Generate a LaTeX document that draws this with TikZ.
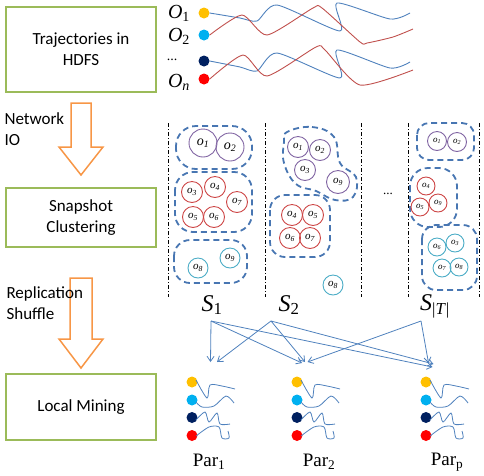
\documentclass[tikz,border=0pt]{standalone}
\usepackage{fontspec}
\setmainfont{Liberation Serif}
\newfontfamily\calibrifont{Carlito}
\usetikzlibrary{calc,arrows.meta}

\definecolor{boxgreen}{RGB}{155,187,89}
\definecolor{arrorange}{RGB}{247,150,70}
\definecolor{offblue}{RGB}{79,129,189}
\definecolor{dashblue}{RGB}{72,118,178}
\definecolor{trajred}{RGB}{192,80,77}
\definecolor{objpurple}{RGB}{128,100,162}
\definecolor{objred}{RGB}{205,70,70}
\definecolor{objteal}{RGB}{75,172,198}
\definecolor{dotyellow}{RGB}{255,192,0}
\definecolor{dotcyan}{RGB}{0,176,240}
\definecolor{dotnavy}{RGB}{0,32,96}
\definecolor{dotred}{RGB}{255,0,0}

\begin{document}
\begin{tikzpicture}[x=1pt,y=-1pt]
% Styles
\tikzset{
    stage/.style={draw=boxgreen, line width=1.6pt, minimum width=150pt, align=center, font=\calibrifont\fontsize{17}{21}\selectfont},
    note/.style={anchor=west, align=left, font=\calibrifont\fontsize{17}{21}\selectfont},
    bigarr/.style={draw=arrorange, line width=1.5pt},
    dot/.style={circle, fill=#1, inner sep=0pt, minimum size=11pt},
    obj/.style={circle, draw=#1, line width=0.9pt, inner sep=0pt, minimum size=21pt, font=\fontsize{11}{11}\selectfont\itshape},
    clus/.style={draw=dashblue, line width=1.8pt, dash pattern=on 6pt off 4pt},
    sep/.style={line width=0.6pt, dash pattern=on 4pt off 2pt on 1pt off 2pt},
    lab/.style={font=\fontsize{24}{24}\selectfont},
    flow/.style={draw=offblue, line width=0.8pt, -{Straight Barb[length=5pt,width=7pt]}},
    trajb/.style={offblue, line width=0.9pt},
    trajr/.style={trajred, line width=0.9pt}
}
\useasboundingbox (0,0) rectangle (484,475);

% Stages
\node[stage, minimum height=85pt] (traj) at (81,49.5) {Trajectories in\\HDFS};
\node[stage, minimum height=59pt] (snap) at (81,217.5) {Snapshot\\Clustering};
\node[stage, minimum height=66pt] (local) at (81,407) {Local Mining};

% Block arrows
\coordinate (a1) at (81,103);
\draw[bigarr] (a1) ++(-10,0) -- ++(20,0) -- ++(0,44) -- ++(12,0) -- ++(-22,28) -- ++(-22,-28) -- ++(12,0) -- cycle;
\coordinate (a2) at (81,278);
\draw[bigarr] (a2) ++(-11,0) -- ++(22,0) -- ++(0,61) -- ++(11,0) -- ++(-22,29) -- ++(-22,-29) -- ++(11,0) -- cycle;
\node[note] (io) at (1,129.5) {Network\\IO};
\node[note] (repl) at (3,303.5) {Replication\\Shuffle};

% Trajectories
\node[font=\fontsize{20}{20}\selectfont] (O1) at (179,13) {\textit{O}\textsubscript{1}};
\node[font=\fontsize{20}{20}\selectfont] (O2) at (179,36) {\textit{O}\textsubscript{2}};
\node[font=\fontsize{14}{14}\selectfont] (Odots) at (172,60) {...};
\node[font=\fontsize{20}{20}\selectfont] (On) at (179,82) {\textit{O}\textsubscript{\textit{n}}};
\node[dot=dotyellow] (dA) at (204,13) {};
\node[dot=dotcyan] (dB) at (204,35) {};
\node[dot=dotnavy] (dC) at (204,61) {};
\node[dot=dotred] (dD) at (204,79) {};
\draw[trajb] plot[smooth, tension=0.4] coordinates {(dA.east) (240,18) (257,21) (277,5) (340,31) (337,3) (390,19) (410,13)};
\draw[trajr] plot[smooth, tension=0.4] coordinates {(dB.east) (242,15) (267,35) (313,8) (322,8) (360,42) (367,43) (393,37) (413,29)};
\draw[trajb] plot[smooth, tension=0.4] coordinates {(dC.east) (240,67) (257,71) (277,53) (340,78) (337,50) (390,68) (410,62)};
\draw[trajr] plot[smooth, tension=0.4] coordinates {(dD.east) (243,55) (267,76) (316,47) (325,50) (360,85) (413,70)};

% Snapshot separators
\foreach \sx in {168,265,361,408,479}
    \draw[sep] (\sx,123) -- (\sx,297);
\node[font=\fontsize{13}{13}\selectfont] (cdots) at (388,194) {...};

% Snapshot S1
\draw[clus, rounded corners=20pt] (176,126) rectangle (252,169);
\draw[clus, rounded corners=18pt] (175,172) rectangle (252,232);
\draw[clus, rounded corners=16pt] (174,240) rectangle (247,283);
\node[obj=objpurple, minimum size=28pt, font=\fontsize{14}{14}\selectfont\itshape] (a1o1) at (203,143) {o\textsubscript{1}};
\node[obj=objpurple, minimum size=28pt, font=\fontsize{14}{14}\selectfont\itshape] (a1o2) at (230,147) {o\textsubscript{2}};
\node[obj=objred] (a1o3) at (192,192) {o\textsubscript{3}};
\node[obj=objred] (a1o4) at (215,187) {o\textsubscript{4}};
\node[obj=objred] (a1o7) at (237,202) {o\textsubscript{7}};
\node[obj=objred] (a1o5) at (193,217) {o\textsubscript{5}};
\node[obj=objred] (a1o6) at (214,217) {o\textsubscript{6}};
\node[obj=objteal, minimum size=20pt] (a1o8) at (198,268) {o\textsubscript{8}};
\node[obj=objteal, minimum size=20pt] (a1o9) at (230,258) {o\textsubscript{9}};

% Snapshot S2
\draw[clus] plot[smooth cycle, tension=0.7] coordinates {(287,132) (312,127) (334,137) (340,163) (356,177) (353,197) (335,200) (316,191) (296,184) (284,163) (284,142)};
\draw[clus, rounded corners=15pt] (270,195) rectangle (330,257);
\node[obj=objpurple] (a2o1) at (298,147) {o\textsubscript{1}};
\node[obj=objpurple] (a2o2) at (320,150) {o\textsubscript{2}};
\node[obj=objpurple] (a2o3) at (305,170) {o\textsubscript{3}};
\node[obj=objpurple, minimum size=23pt] (a2o9) at (338,182) {o\textsubscript{9}};
\node[obj=objred] (a2o4) at (292,215) {o\textsubscript{4}};
\node[obj=objred] (a2o5) at (313,215) {o\textsubscript{5}};
\node[obj=objred] (a2o6) at (290,238) {o\textsubscript{6}};
\node[obj=objred] (a2o7) at (310,238) {o\textsubscript{7}};
\node[obj=objteal, minimum size=20pt] (a2o8) at (333,285) {o\textsubscript{8}};

% Snapshot S|T|
\draw[clus, rounded corners=12pt] (417,123) rectangle (474,160);
\draw[clus, rounded corners=18pt] (410,168) rectangle (457,227);
\draw[clus, rounded corners=14pt] (422,225) rectangle (477,290);
\node[obj=objpurple, minimum size=19pt, font=\fontsize{9}{9}\selectfont\itshape] (aTo1) at (437,141) {o\textsubscript{1}};
\node[obj=objpurple, minimum size=19pt, font=\fontsize{9}{9}\selectfont\itshape] (aTo2) at (457,142) {o\textsubscript{2}};
\node[obj=objred, minimum size=18pt, font=\fontsize{9}{9}\selectfont\itshape] (aTo4) at (426,186) {o\textsubscript{4}};
\node[obj=objred, minimum size=18pt, font=\fontsize{9}{9}\selectfont\itshape] (aTo5) at (420,207) {o\textsubscript{5}};
\node[obj=objred, minimum size=18pt, font=\fontsize{9}{9}\selectfont\itshape] (aTo9) at (438,203) {o\textsubscript{9}};
\node[obj=objteal, minimum size=18pt, font=\fontsize{9}{9}\selectfont\itshape] (aTo6) at (437,247) {o\textsubscript{6}};
\node[obj=objteal, minimum size=18pt, font=\fontsize{9}{9}\selectfont\itshape] (aTo3) at (455,243) {o\textsubscript{3}};
\node[obj=objteal, minimum size=18pt, font=\fontsize{9}{9}\selectfont\itshape] (aTo7) at (442,268) {o\textsubscript{7}};
\node[obj=objteal, minimum size=18pt, font=\fontsize{9}{9}\selectfont\itshape] (aTo8) at (459,267) {o\textsubscript{8}};

% Snapshot labels
\node[lab] (S1) at (212,305) {\textit{S}\textsubscript{1}};
\node[lab] (S2) at (289,305) {\textit{S}\textsubscript{2}};
\node[lab] (ST) at (435,306) {\textit{S}\textsubscript{|\textit{T}|}};
\coordinate (S1out) at (211,321);
\coordinate (S2out) at (271,321);
\coordinate (STout) at (421,321);

% Partitions
\foreach \px/\nm/\lx in {192/1/209, 297/2/319, 426/p/447} {
    \node[dot=dotyellow] (P\nm a) at (\px,382) {};
    \node[dot=dotcyan] (P\nm b) at (\px,400) {};
    \node[dot=dotnavy] (P\nm c) at (\px,417.5) {};
    \node[dot=dotred] (P\nm d) at (\px,435.5) {};
    \begin{scope}[shift={(\px,0)}, trajb, line width=0.8pt]
        \draw plot[smooth, tension=0.5] coordinates {(4,380) (15,398) (18,385) (30,386) (43,389)};
        \draw plot[smooth, tension=0.5] coordinates {(4,402) (10,407) (22,406) (34,396) (42,403)};
        \draw plot[smooth, tension=0.5] coordinates {(4,420) (13,412) (17,422) (25,413) (28,424) (38,424)};
        \draw plot[smooth, tension=0.5] coordinates {(4,436) (17,427) (27,427) (30,438) (37,438) (36,431)};
    \end{scope}
    \node[font=\fontsize{19}{19}\selectfont] (Par\nm) at (\lx,462) {Par\textsubscript{\nm}};
}
\coordinate (P1in) at (211,362);
\coordinate (P2in) at (305,362);
\coordinate (Ppin) at (431,365);

% Replication shuffle
\draw[flow] (S1out) -- ([xshift=-0.5pt]P1in);
\draw[flow] (S1out) -- ([xshift=-3pt,yshift=-1pt]P2in);
\draw[flow] (S1out) -- ([xshift=1.5pt,yshift=-2pt]Ppin);
\draw[flow] (S2out) -- ([xshift=6pt]P1in);
\draw[flow] (S2out) -- (P2in);
\draw[flow] (S2out) -- ([xshift=2.5pt,yshift=1pt]Ppin);
\draw[flow] (STout) -- ([xshift=2.5pt]P2in);
\draw[flow] (STout) -- ([xshift=-2.5pt,yshift=2pt]Ppin);

\end{tikzpicture}
\end{document}
